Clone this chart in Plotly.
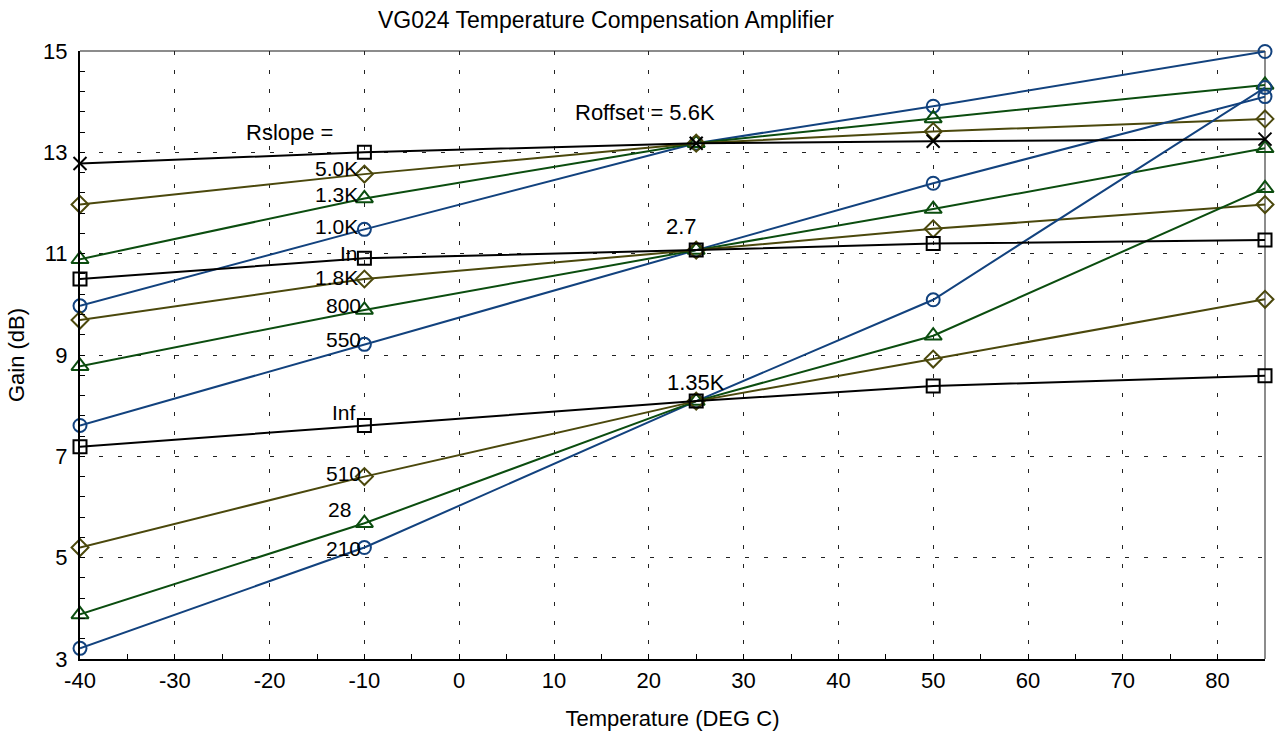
import plotly.graph_objects as go

# ---------------- data ----------------
temps = [-40, -10, 25, 50, 85]

# Roffset = 5.6K group
a_inf = [12.78, 13.00, 13.18, 13.22, 13.26]
a_5k0 = [11.97, 12.57, 13.18, 13.41, 13.66]
a_1k3 = [10.89, 12.09, 13.18, 13.67, 14.33]
a_1k0 = [9.97, 11.48, 13.18, 13.91, 14.99]
a_inf_symbols = ["x-thin", "square-open", "x-thin", "x-thin", "x-thin"]

# Roffset = 2.7 group
b_inf = [10.50, 10.91, 11.07, 11.20, 11.27]
b_1k8 = [9.69, 10.50, 11.07, 11.49, 11.97]
b_800 = [8.78, 9.89, 11.07, 11.88, 13.08]
b_550 = [7.61, 9.21, 11.07, 12.39, 14.10]

# Roffset = 1.35K group
c_inf = [7.19, 7.61, 8.09, 8.39, 8.59]
c_510 = [5.20, 6.60, 8.09, 8.92, 10.10]
c_280 = [3.88, 5.68, 8.09, 9.38, 12.29]
c_210 = [3.21, 5.20, 8.09, 10.09, 14.28]

x_ticks = [-40, -30, -20, -10, 0, 10, 20, 30, 40, 50, 60, 70, 80]
y_ticks = [3, 5, 7, 9, 11, 13, 15]

# text labels: (text, x, y, xanchor, size)
labels = [
    ("Rslope =", -17.95, 13.40, "center", 22),
    ("Roffset = 5.6K", 19.65, 13.78, "center", 22),
    ("2.7", 23.5, 11.53, "center", 22),
    ("1.35K", 25.0, 8.45, "center", 22),
    ("5.0K", -10.5, 12.69, "right", 21),
    ("1.3K", -10.5, 12.16, "right", 21),
    ("1.0K", -10.5, 11.53, "right", 21),
    ("In", -10.5, 11.00, "right", 21),
    ("1.8K", -10.5, 10.53, "right", 21),
    ("800", -10.1, 9.97, "right", 21),
    ("550", -10.1, 9.30, "right", 21),
    ("Inf", -10.7, 7.86, "right", 21),
    ("510", -10.1, 6.67, "right", 21),
    ("28", -11.2, 5.96, "right", 21),
    ("210", -10.1, 5.19, "right", 21),
]

BLUE = "#12427e"
GREEN = "#0b4d0f"
OLIVE = "#4b480c"
BLACK = "#000000"
FONT = "Liberation Sans, Arial, sans-serif"
FS = 22

fig = go.Figure()

def add(y, color, symbol, size=13):
    fig.add_trace(go.Scatter(
        x=temps, y=y, mode="lines+markers", cliponaxis=False,
        line=dict(color=color, width=2),
        marker=dict(symbol=symbol, size=size, color=color,
                    line=dict(color=color, width=2)),
        showlegend=False, hoverinfo="x+y",
    ))

for grp in [(a_1k0, a_1k3, a_5k0), (b_550, b_800, b_1k8), (c_210, c_280, c_510)]:
    add(grp[0], BLUE, "circle-open")
    add(grp[1], GREEN, "triangle-up-open", 15)
    add(grp[2], OLIVE, "diamond-open")
add(b_inf, BLACK, "square-open")
add(c_inf, BLACK, "square-open")
add(a_inf, BLACK, a_inf_symbols)

for text, x, y, anchor, size in labels:
    fig.add_annotation(x=x, y=y, text=text, showarrow=False, xanchor=anchor,
                       yanchor="middle", font=dict(size=size, color="black", family=FONT))

# gray top/right frame
fig.add_shape(type="line", xref="paper", yref="paper", x0=0, x1=1, y0=1, y1=1,
              line=dict(color="#8c8c8c", width=2), layer="below")
fig.add_shape(type="line", xref="paper", yref="paper", x0=1, x1=1, y0=0, y1=1,
              line=dict(color="#8c8c8c", width=2), layer="below")

fig.update_layout(
    width=1276, height=737,
    margin=dict(l=80, r=11, t=51, b=78),
    paper_bgcolor="white", plot_bgcolor="white",
    font=dict(family=FONT, size=FS, color="black"),
    title=dict(text="VG024 Temperature Compensation Amplifier",
               x=606 / 1276, xanchor="center", xref="container",
               y=1 - 20 / 737, yanchor="middle", yref="container",
               font=dict(size=23, color="black", family=FONT)),
    xaxis=dict(
        range=[-40, 85], tickvals=x_ticks, ticktext=[str(v) for v in x_ticks],
        showline=True, linecolor="black", linewidth=2, automargin=False,
        ticks="inside", ticklen=5, tickwidth=1, tickcolor="black",
        showgrid=True, gridcolor="#222222", gridwidth=1, griddash="4px,15px",
        minor=dict(dtick=5, tick0=-40, ticks="inside", ticklen=5, tickcolor="black", showgrid=False),
        zeroline=False, ticklabelstandoff=1,
        title=dict(text="Temperature (DEG C)", standoff=18, font=dict(size=FS)),
        tickfont=dict(size=FS),
    ),
    yaxis=dict(
        range=[3, 15], tickvals=y_ticks, ticktext=[str(v) for v in y_ticks],
        showline=True, linecolor="black", linewidth=2, automargin=False,
        ticks="inside", ticklen=5, tickwidth=1, tickcolor="black",
        showgrid=True, gridcolor="#222222", gridwidth=1, griddash="4px,15px",
        minor=dict(dtick=0.4, tick0=3, ticks="inside", ticklen=5, tickcolor="black", showgrid=False),
        zeroline=False, ticklabelstandoff=6,
        title=dict(text="Gain (dB)", standoff=12, font=dict(size=FS)),
        tickfont=dict(size=FS),
    ),
)

fig.write_html("out.html")
